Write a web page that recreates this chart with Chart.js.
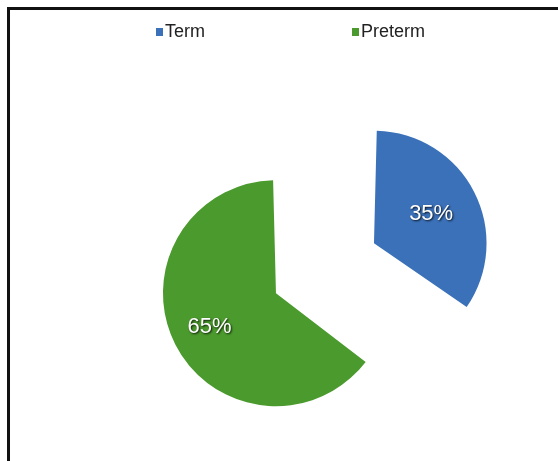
<!DOCTYPE html>
<html>
<head>
<meta charset="utf-8">
<script src="https://cdn.jsdelivr.net/npm/chart.js@4.4.0/dist/chart.umd.min.js"></script>
<style>
  html, body { margin: 0; padding: 0; background: #fff; }
  #wrap { position: relative; width: 558px; height: 461px; overflow: hidden; }
  #frame {
    position: absolute; left: 7px; top: 7px; right: 0; bottom: 0;
    border-left: 3px solid #111; border-top: 3px solid #111;
    pointer-events: none;
  }
  #chart { position: absolute; left: 0; top: 0; }
  #legend {
    position: absolute; left: 156px; top: 21px; display: flex;
    font-family: "Liberation Sans", Arial, sans-serif; font-size: 18px; color: #222;
  }
  .item { display: flex; align-items: center; }
  .item:first-child { width: 196px; }
  .box { width: 7px; height: 8px; margin-right: 2px; }
</style>
</head>
<body>
<div id="wrap">
  <canvas id="chart" width="558" height="461"></canvas>
  <div id="legend"></div>
  <div id="frame"></div>
</div>
<script>
const labels = ['Term', 'Preterm'];
const values = [35, 65];
const colors = ['#3b71b9', '#4b9a2d'];

// legend
const legend = document.getElementById('legend');
labels.forEach((label, i) => {
  const item = document.createElement('div');
  item.className = 'item';
  const box = document.createElement('span');
  box.className = 'box';
  box.style.background = colors[i];
  const text = document.createElement('span');
  text.textContent = label;
  item.appendChild(box);
  item.appendChild(text);
  legend.appendChild(item);
});

// percent labels inside the slices
const sliceLabels = {
  id: 'sliceLabels',
  afterDatasetsDraw(chart, args, opts) {
    const ctx = chart.ctx;
    const meta = chart.getDatasetMeta(0);
    const total = values.reduce((a, b) => a + b, 0);
    meta.data.forEach((arc, i) => {
      const {x, y, startAngle, endAngle, outerRadius, circumference} =
        arc.getProps(['x', 'y', 'startAngle', 'endAngle', 'outerRadius', 'circumference'], true);
      const mid = (startAngle + endAngle) / 2;
      // chart.js v4 moves an offset arc by offset/4 and grows it a bit
      const shift = (arc.options.offset || 0) / 4;
      const fix = 1 - Math.sin(Math.min(Math.PI, circumference || 0));
      const r = outerRadius + shift * fix;
      const dist = shift + r * opts.at[i];
      const px = x + Math.cos(mid) * dist;
      const py = y + Math.sin(mid) * dist;
      ctx.save();
      ctx.font = '22px "Liberation Sans", Arial, sans-serif';
      ctx.textAlign = 'center';
      ctx.textBaseline = 'middle';
      ctx.shadowColor = 'rgba(0,0,0,0.85)';
      ctx.shadowBlur = 2;
      ctx.shadowOffsetX = 1;
      ctx.shadowOffsetY = 1;
      ctx.fillStyle = '#fff';
      ctx.fillText(Math.round(values[i] / total * 100) + '%', px, py);
      ctx.restore();
    });
  }
};

new Chart(document.getElementById('chart'), {
  type: 'pie',
  data: {
    labels: labels,
    datasets: [{
      data: values,
      backgroundColor: colors,
      borderWidth: 0,
      offset: [368, 72],
      radius: 95,
      cutout: '0%'
    }]
  },
  options: {
    responsive: false,
    animation: false,
    layout: { padding: { left: 26, right: 0, top: 109, bottom: 0 } },
    plugins: {
      legend: { display: false },
      tooltip: { enabled: false },
      sliceLabels: { at: [0.57, 0.66] }
    }
  },
  plugins: [sliceLabels]
});
</script>
</body>
</html>
